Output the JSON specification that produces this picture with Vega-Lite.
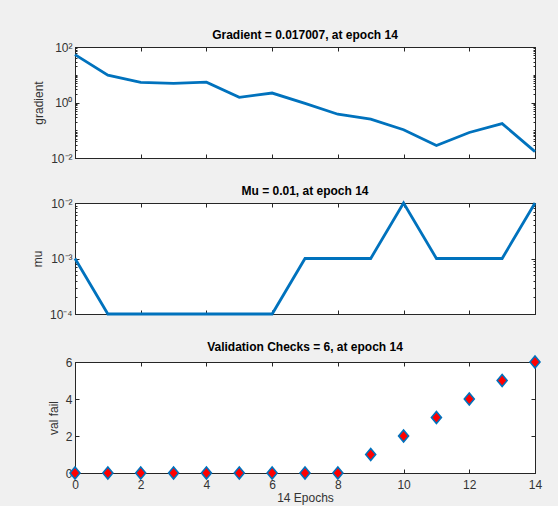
{
  "$schema": "https://vega.github.io/schema/vega-lite/v6.json",
  "background": "#f0f0f0",
  "padding": {"left": 30, "top": 28, "right": 24, "bottom": 2},
  "datasets": {
    "train": [
      {"epoch": 0, "gradient": 53, "mu": 0.001, "valfail": 0},
      {"epoch": 1, "gradient": 9.7, "mu": 0.0001, "valfail": 0},
      {"epoch": 2, "gradient": 5.3, "mu": 0.0001, "valfail": 0},
      {"epoch": 3, "gradient": 4.9, "mu": 0.0001, "valfail": 0},
      {"epoch": 4, "gradient": 5.4, "mu": 0.0001, "valfail": 0},
      {"epoch": 5, "gradient": 1.53, "mu": 0.0001, "valfail": 0},
      {"epoch": 6, "gradient": 2.19, "mu": 0.0001, "valfail": 0},
      {"epoch": 7, "gradient": 0.93, "mu": 0.001, "valfail": 0},
      {"epoch": 8, "gradient": 0.377, "mu": 0.001, "valfail": 0},
      {"epoch": 9, "gradient": 0.25, "mu": 0.001, "valfail": 1},
      {"epoch": 10, "gradient": 0.104, "mu": 0.01, "valfail": 2},
      {"epoch": 11, "gradient": 0.028, "mu": 0.001, "valfail": 3},
      {"epoch": 12, "gradient": 0.083, "mu": 0.001, "valfail": 4},
      {"epoch": 13, "gradient": 0.174, "mu": 0.001, "valfail": 5},
      {"epoch": 14, "gradient": 0.017007, "mu": 0.01, "valfail": 6}
    ]
  },
  "data": {"name": "train"},
  "spacing": 19,
  "vconcat": [
    {
      "title": {"text": "Gradient = 0.017007, at epoch 14"},
      "width": 460,
      "height": 111,
      "layer": [
        {
          "mark": {"type": "line", "color": "#0072BD", "strokeWidth": 2.8},
          "encoding": {
            "x": {"field": "epoch", "type": "quantitative", "scale": {"domain": [0, 14], "nice": false},
                  "axis": {"orient": "bottom", "values": [0, 2, 4, 6, 8, 10, 12, 14], "labels": false, "labelPadding": 0, "title": null}},
            "y": {"field": "gradient", "type": "quantitative",
                  "scale": {"type": "log", "domain": [0.01, 100], "nice": false},
                  "axis": {"orient": "left", "title": "gradient",
                           "values": [0.01,0.02,0.03,0.04,0.05,0.06,0.07,0.08,0.09,0.1,0.2,0.3,0.4,0.5,0.6,0.7,0.8,0.9,1,2,3,4,5,6,7,8,9,10,20,30,40,50,60,70,80,90,100],
                           "labelExpr": "datum.value == 100 ? '10²' : datum.value == 1 ? '10⁰' : datum.value == 0.01 ? '10⁻²' : ''",
                           "tickSize": {"condition": {"test": "indexof([0.01, 1, 100], datum.value) >= 0", "value": -4}, "value": -2}}}
          }
        },
        {
          "mark": {"type": "line", "opacity": 0},
          "encoding": {
            "x": {"field": "epoch", "type": "quantitative", "scale": {"domain": [0, 14], "nice": false},
                  "axis": {"orient": "top", "values": [0, 2, 4, 6, 8, 10, 12, 14], "labels": false, "labelPadding": 0, "title": null}},
            "y": {"field": "gradient", "type": "quantitative",
                  "scale": {"type": "log", "domain": [0.01, 100], "nice": false},
                  "axis": {"orient": "right", "title": null, "labels": false, "labelPadding": 0,
                           "values": [0.01,0.02,0.03,0.04,0.05,0.06,0.07,0.08,0.09,0.1,0.2,0.3,0.4,0.5,0.6,0.7,0.8,0.9,1,2,3,4,5,6,7,8,9,10,20,30,40,50,60,70,80,90,100],
                           "tickSize": {"condition": {"test": "indexof([0.01, 1, 100], datum.value) >= 0", "value": -4}, "value": -2}}}
          }
        }
      ],
      "resolve": {"axis": {"x": "independent", "y": "independent"}}
    },
    {
      "title": {"text": "Mu = 0.01, at epoch 14"},
      "width": 460,
      "height": 111,
      "layer": [
        {
          "mark": {"type": "line", "color": "#0072BD", "strokeWidth": 2.8},
          "encoding": {
            "x": {"field": "epoch", "type": "quantitative", "scale": {"domain": [0, 14], "nice": false},
                  "axis": {"orient": "bottom", "values": [0, 2, 4, 6, 8, 10, 12, 14], "labels": false, "labelPadding": 0, "title": null}},
            "y": {"field": "mu", "type": "quantitative",
                  "scale": {"type": "log", "domain": [0.0001, 0.01], "nice": false},
                  "axis": {"orient": "left", "title": "mu",
                           "values": [0.0001,0.0002,0.0003,0.0004,0.0005,0.0006,0.0007,0.0008,0.0009,0.001,0.002,0.003,0.004,0.005,0.006,0.007,0.008,0.009,0.01],
                           "labelExpr": "datum.value == 0.01 ? '10⁻²' : datum.value == 0.001 ? '10⁻³' : datum.value == 0.0001 ? '10⁻⁴' : ''",
                           "tickSize": {"condition": {"test": "indexof([0.0001, 0.001, 0.01], datum.value) >= 0", "value": -4}, "value": -2}}}
          }
        },
        {
          "mark": {"type": "line", "opacity": 0},
          "encoding": {
            "x": {"field": "epoch", "type": "quantitative", "scale": {"domain": [0, 14], "nice": false},
                  "axis": {"orient": "top", "values": [0, 2, 4, 6, 8, 10, 12, 14], "labels": false, "labelPadding": 0, "title": null}},
            "y": {"field": "mu", "type": "quantitative",
                  "scale": {"type": "log", "domain": [0.0001, 0.01], "nice": false},
                  "axis": {"orient": "right", "title": null, "labels": false, "labelPadding": 0,
                           "values": [0.0001,0.0002,0.0003,0.0004,0.0005,0.0006,0.0007,0.0008,0.0009,0.001,0.002,0.003,0.004,0.005,0.006,0.007,0.008,0.009,0.01],
                           "tickSize": {"condition": {"test": "indexof([0.0001, 0.001, 0.01], datum.value) >= 0", "value": -4}, "value": -2}}}
          }
        }
      ],
      "resolve": {"axis": {"x": "independent", "y": "independent"}}
    },
    {
      "title": {"text": "Validation Checks = 6, at epoch 14"},
      "width": 460,
      "height": 111,
      "layer": [
        {
          "mark": {"type": "point", "shape": "M0,-1L0.83,0L0,1L-0.83,0Z", "filled": true, "fill": "#ff0000", "stroke": "#0072BD", "strokeWidth": 1.6, "size": 144, "opacity": 1},
          "encoding": {
            "x": {"field": "epoch", "type": "quantitative", "scale": {"domain": [0, 14], "nice": false},
                  "axis": {"orient": "bottom", "values": [0, 2, 4, 6, 8, 10, 12, 14], "title": "14 Epochs", "labelPadding": 10, "titlePadding": 2}},
            "y": {"field": "valfail", "type": "quantitative",
                  "scale": {"domain": [0, 6], "nice": false},
                  "axis": {"orient": "left", "title": "val fail", "values": [0, 2, 4, 6]}}
          }
        },
        {
          "mark": {"type": "point", "opacity": 0},
          "encoding": {
            "x": {"field": "epoch", "type": "quantitative", "scale": {"domain": [0, 14], "nice": false},
                  "axis": {"orient": "top", "values": [0, 2, 4, 6, 8, 10, 12, 14], "labels": false, "labelPadding": 0, "title": null}},
            "y": {"field": "valfail", "type": "quantitative",
                  "scale": {"domain": [0, 6], "nice": false},
                  "axis": {"orient": "right", "title": null, "labels": false, "labelPadding": 0, "values": [0, 2, 4, 6]}}
          }
        }
      ],
      "resolve": {"axis": {"x": "independent", "y": "independent"}}
    }
  ],
  "config": {
    "font": "Liberation Sans",
    "view": {"stroke": "#262626", "strokeWidth": 1, "fill": "white"},
    "axis": {
      "grid": false,
      "domainColor": "#262626",
      "tickColor": "#262626",
      "labelColor": "#333333",
      "titleColor": "#333333",
      "labelFontSize": 12,
      "titleFontSize": 12,
      "titleFontWeight": "normal",
      "tickSize": -4,
      "labelPadding": 7,
      "titlePadding": 5,
      "labelFlush": false,
      "labelOverlap": false
    },
    "title": {"fontSize": 12, "fontWeight": "bold", "color": "#000000", "offset": -1, "anchor": "middle"}
  }
}
